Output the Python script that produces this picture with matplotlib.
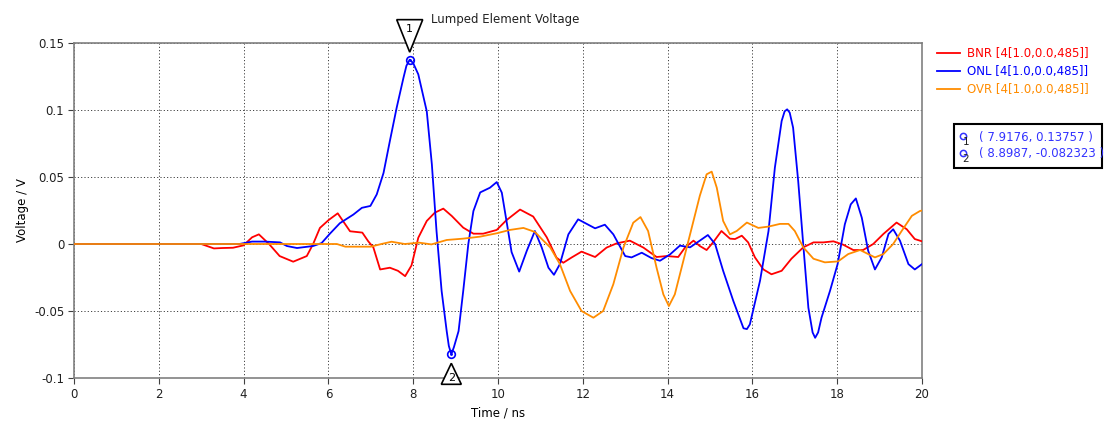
import numpy as np
import matplotlib
matplotlib.use('Agg')
import matplotlib.pyplot as plt
import matplotlib.transforms as mtransforms
from matplotlib.lines import Line2D
from matplotlib.patches import Polygon, Rectangle

plt.rcParams['font.family'] = ['DejaVu Sans']
plt.rcParams['axes.unicode_minus'] = False

W, H = 1107, 421

# --- data (time in ns, voltage in V) ---
BNR_T = [0.0, 3.0, 3.3, 3.5, 3.75, 4.0, 4.2, 4.36, 4.6, 4.85,
         5.17, 5.49, 5.64, 5.8, 6.01, 6.22, 6.51, 6.8, 6.94, 7.06,
         7.22, 7.45, 7.64, 7.81, 7.96, 8.12, 8.32, 8.51, 8.71, 8.91,
         9.18, 9.42, 9.65, 9.97, 10.2, 10.52, 10.83, 11.15, 11.38, 11.54,
         11.74, 11.97, 12.29, 12.56, 12.8, 13.11, 13.43, 13.74, 13.98, 14.25,
         14.41, 14.61, 14.76, 14.92, 15.08, 15.27, 15.47, 15.59, 15.75, 15.9,
         16.06, 16.26, 16.45, 16.69, 16.92, 17.2, 17.44, 17.67, 17.91, 18.14,
         18.38, 18.61, 18.85, 19.09, 19.4, 19.64, 19.83, 20.0]
BNR_V = [0.0, 0.0, -0.0033, -0.003, -0.0028, -0.001, 0.005, 0.0072, 0.0, -0.009,
         -0.0132, -0.009, 0.0, 0.012, 0.018, 0.0229, 0.0095, 0.0085, 0.002, -0.0025,
         -0.019, -0.0177, -0.020, -0.024, -0.016, 0.0047, 0.0172, 0.0234, 0.0264, 0.0209,
         0.0122, 0.0077, 0.0077, 0.0105, 0.0178, 0.0257, 0.0205, 0.005, -0.0102, -0.014,
         -0.010, -0.0057, -0.0097, -0.0027, 0.0005, 0.0025, -0.0027, -0.0097, -0.009, -0.0097,
         -0.0027, 0.0025, -0.0015, -0.0045, 0.0015, 0.0097, 0.004, 0.0037, 0.0062, 0.0012,
         -0.010, -0.019, -0.0226, -0.020, -0.011, -0.0025, 0.0012, 0.0012, 0.002, -0.0005,
         -0.0045, -0.0045, 0.0, 0.0075, 0.016, 0.011, 0.0037, 0.002]

ONL_T = [0.0, 3.9, 4.2, 4.5, 4.86, 5.02, 5.26, 5.64, 5.84, 6.03,
         6.27, 6.59, 6.79, 6.99, 7.14, 7.3, 7.45, 7.61, 7.77, 7.84, 7.9176, 8.0,
         8.12, 8.32, 8.44, 8.55, 8.67, 8.79, 8.84, 8.8987, 8.96, 9.07, 9.18, 9.3,
         9.42, 9.58, 9.81, 9.97, 10.09, 10.2, 10.32, 10.5, 10.68, 10.87,
         11.03, 11.19, 11.32, 11.46, 11.66, 11.89, 12.29, 12.52, 12.72, 13.0,
         13.15, 13.39, 13.62, 13.82, 14.06, 14.29, 14.53, 14.76, 14.95, 15.12,
         15.31, 15.55, 15.79, 15.87, 15.94, 16.18, 16.38, 16.53, 16.69, 16.76, 16.82, 16.88, 16.96,
         17.08, 17.2, 17.32, 17.42, 17.48, 17.55, 17.63, 17.83, 18.01, 18.18, 18.32, 18.44,
         18.58, 18.73, 18.89, 19.05, 19.21, 19.32, 19.48, 19.68, 19.83, 20.0]
ONL_V = [0.0, 0.0, 0.0018, 0.0018, 0.0012, -0.0015, -0.003, -0.0015, 0.0007, 0.0075,
         0.0155, 0.022, 0.027, 0.0284, 0.037, 0.053, 0.0769, 0.1017, 0.124, 0.133, 0.13757, 0.135,
         0.1266, 0.099, 0.0595, 0.0097, -0.035, -0.065, -0.076, -0.082323, -0.077, -0.065, -0.035, 0.0,
         0.0246, 0.0385, 0.042, 0.0462, 0.0383, 0.0172, -0.006, -0.0206, -0.005, 0.0097,
         -0.0025, -0.0177, -0.023, -0.015, 0.0072, 0.0184, 0.0117, 0.0144, 0.0072, -0.009,
         -0.010, -0.0065, -0.0105, -0.0125, -0.0077, -0.0012, -0.0025, 0.0025, 0.0067, 0.0,
         -0.020, -0.0425, -0.0629, -0.0635, -0.060, -0.0274, 0.0097, 0.057, 0.0918, 0.099, 0.1005, 0.098, 0.0868,
         0.047, -0.0007, -0.0475, -0.066, -0.070, -0.066, -0.055, -0.035, -0.015, 0.0147, 0.0296, 0.034,
         0.0196, -0.005, -0.019, -0.010, 0.0075, 0.011, 0.0025, -0.015, -0.019, -0.015]

OVR_T = [0.0, 6.2, 6.4, 6.7, 7.0, 7.25, 7.49, 7.8, 8.14, 8.43,
         8.79, 9.18, 9.58, 9.97, 10.28, 10.6, 10.87, 11.07, 11.23, 11.46,
         11.7, 11.97, 12.25, 12.48, 12.72, 12.96, 13.19, 13.36, 13.54, 13.74,
         13.9, 14.03, 14.17, 14.37, 14.57, 14.76, 14.92, 15.04, 15.16, 15.31,
         15.47, 15.63, 15.87, 16.14, 16.38, 16.65, 16.85, 17.0, 17.2, 17.44,
         17.71, 18.02, 18.26, 18.54, 18.73, 18.89, 19.09, 19.32, 19.52, 19.76,
         19.95, 20.0]
OVR_V = [0.0, 0.0, -0.002, -0.002, -0.002, 0.0, 0.0017, 0.0, 0.001, -0.0003,
         0.003, 0.004, 0.0055, 0.008, 0.0105, 0.012, 0.009, 0.0025, -0.0025, -0.015,
         -0.035, -0.050, -0.055, -0.050, -0.030, -0.0025, 0.0159, 0.0201, 0.0097, -0.0177,
         -0.0376, -0.0463, -0.0376, -0.0127, 0.0122, 0.0360, 0.052, 0.054, 0.042, 0.0172,
         0.0072, 0.0097, 0.016, 0.012, 0.013, 0.015, 0.015, 0.0097, -0.0025, -0.011,
         -0.0137, -0.013, -0.0075, -0.0045, -0.0075, -0.010, -0.0075, 0.0, 0.0097, 0.021,
         0.0246, 0.025]

SERIES = ['BNR [4[1.0,0.0,485]]', 'ONL [4[1.0,0.0,485]]', 'OVR [4[1.0,0.0,485]]']
COLORS = ['#ff0000', '#0000ff', '#ff8c00']

MARKER_T = [7.9176, 8.8987]
MARKER_V = [0.13757, -0.082323]

X_TICKS = [0, 2, 4, 6, 8, 10, 12, 14, 16, 18, 20]
Y_TICKS = [-0.1, -0.05, 0, 0.05, 0.1, 0.15]
Y_LABELS = ['-0.1', '-0.05', '0', '0.05', '0.1', '0.15']


def fx(px):
    return px / W


def fy(py):
    return 1 - py / H


fig = plt.figure(figsize=(W / 100, H / 100), dpi=100)
ax = fig.add_axes([fx(74), fy(378), fx(922) - fx(74), fy(43) - fy(378)])

for t, v, c in zip([BNR_T, ONL_T, OVR_T], [BNR_V, ONL_V, OVR_V], COLORS):
    ax.plot(t, v, color=c, lw=1.3, zorder=3)

ax.set_xlim(0, 20)
ax.set_ylim(-0.1, 0.15)
ax.set_xticks(X_TICKS)
ax.set_xticklabels([str(x) for x in X_TICKS])
ax.set_yticks(Y_TICKS)
ax.set_yticklabels(Y_LABELS)
ax.tick_params(direction='out', length=4, width=0.8, color='#404040',
               labelsize=8.5, labelcolor='#202020', pad=3)
ax.grid(True, color='#404040', linestyle=(0, (1.2, 2.2)), linewidth=0.7)
for s in ax.spines.values():
    s.set_color('#808080')
    s.set_linewidth(1.2)
ax.set_xlabel('Time / ns', fontsize=8.5, labelpad=4)
ax.set_ylabel('Voltage / V', fontsize=8.5)
ax.yaxis.set_label_coords((29 - 74) / 848, 0.5)

fig.text(fx(431), fy(20), 'Lumped Element Voltage', fontsize=8.5,
         ha='left', va='center', color='#202020')

# curve markers with numbered triangle flags
for i, (mt, mv) in enumerate(zip(MARKER_T, MARKER_V)):
    ax.plot([mt], [mv], 'o', mfc='none', mec='#0000ff', ms=5.5, mew=1.2,
            zorder=5, clip_on=False)
    ax.plot([mt], [mv], '.', color='#0000ff', ms=2, zorder=5, clip_on=False)
    trans = fig.dpi_scale_trans + mtransforms.ScaledTranslation(mt, mv, ax.transData)
    if mv > 0:
        verts = [(0, 0.075), (-0.13, 0.40), (0.13, 0.40)]
        ty = 0.31
    else:
        verts = [(0, -0.09), (-0.10, -0.30), (0.10, -0.30)]
        ty = -0.235
    ax.add_patch(Polygon(verts, closed=True, facecolor='white', edgecolor='black',
                         lw=1.2, transform=trans, clip_on=False, zorder=6))
    ax.text(0, ty, str(i + 1), transform=trans, ha='center', va='center',
            fontsize=8, zorder=7)

# legend, drawn at the right of the plot
for i, (name, c) in enumerate(zip(SERIES, COLORS)):
    y = 53 + i * 18
    fig.add_artist(Line2D([fx(937), fx(960)], [fy(y), fy(y)], color=c, lw=1.3))
    fig.text(fx(967), fy(y), name, color=c, fontsize=8.5, ha='left', va='center')

# marker readout box
fig.add_artist(Rectangle((fx(954), fy(168)), fx(1102) - fx(954), fy(124) - fy(168),
                         transform=fig.transFigure, facecolor='white',
                         edgecolor='black', lw=1.5))
for i, (mt, mv) in enumerate(zip(MARKER_T, MARKER_V)):
    y = 137 + i * 17
    fig.add_artist(Line2D([fx(963)], [fy(y - 1)], marker='o', mfc='none',
                          mec='#3333ff', ms=4.5, mew=1.1))
    fig.text(fx(966), fy(y + 5), str(i + 1), fontsize=7.5, ha='center', va='center',
             color='#202020')
    fig.text(fx(979), fy(y), f'( {mt:g}, {mv:g} )', fontsize=8.5, color='#3333ff',
             ha='left', va='center')

fig.savefig('out.png', dpi=100)
